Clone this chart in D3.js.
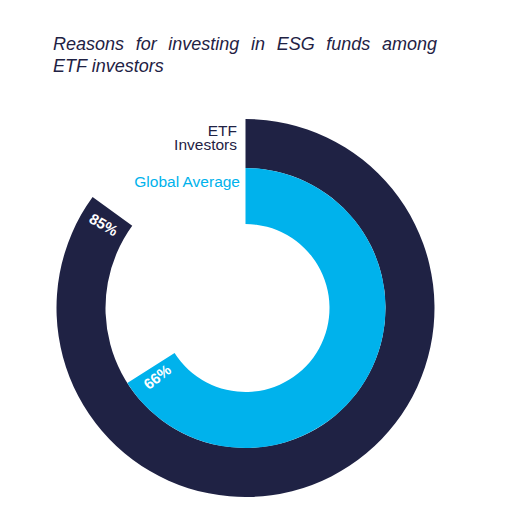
<!DOCTYPE html>
<html>
<head>
<meta charset="utf-8">
<script src="https://cdn.jsdelivr.net/npm/d3@7"></script>
<style>
  html, body { margin: 0; padding: 0; background: #fff; }
  svg { display: block; font-family: "Liberation Sans", Arial, sans-serif; }
</style>
</head>
<body>
<svg id="chart" width="523" height="523"></svg>
<script>
// chart data
const series = ["ETF Investors", "Global Average"];
const values = [85, 66];
const seriesColors = ["#1f2244", "#00b2ec"];

const titleLines = ["Reasons for investing in ESG funds among", "ETF investors"];

const width = 523, height = 523;
const cx = 245.5, cy = 308;

const svg = d3.select("#chart");

// title, first line justified by word spacing
const title = svg.append("g")
  .attr("fill", "#1f2244")
  .attr("font-size", 18)
  .attr("font-style", "italic");
const t1 = title.append("text")
  .attr("x", 53).attr("y", 50)
  .text(titleLines[0]);
const gaps = titleLines[0].split(" ").length - 1;
const extra = (384 - t1.node().getComputedTextLength()) / gaps;
t1.attr("word-spacing", Math.max(0, extra));
title.append("text")
  .attr("x", 53).attr("y", 72)
  .text(titleLines[1]);

// angle scale: percent -> radians
const angle = d3.scaleLinear().domain([0, 100]).range([0, 2 * Math.PI]);
// ring radii [inner, outer] per series
const rings = d3.scaleOrdinal().domain(series).range([[140, 189], [84, 140]]);

const arc = d3.arc()
  .innerRadius(d => rings(d.name)[0])
  .outerRadius(d => rings(d.name)[1])
  .startAngle(0)
  .endAngle(d => angle(d.value));

const data = series.map((name, i) => ({ name, value: values[i], color: seriesColors[i] }));

const g = svg.append("g").attr("transform", `translate(${cx},${cy})`);

g.selectAll("path.ring")
  .data(data)
  .join("path")
  .attr("class", "ring")
  .attr("fill", d => d.color)
  .attr("d", arc);

// percent labels near each arc end, running radially
g.selectAll("text.pct")
  .data(data)
  .join("text")
  .attr("class", "pct")
  .attr("fill", "#fff")
  .attr("font-weight", "bold")
  .attr("font-size", 15)
  .attr("text-anchor", "middle")
  .attr("dominant-baseline", "central")
  .attr("transform", d => {
    const a = angle(d.value) - 5.5 * Math.PI / 180;
    const r = (rings(d.name)[0] + rings(d.name)[1]) / 2;
    const x = r * Math.sin(a), y = -r * Math.cos(a);
    const rot = a * 180 / Math.PI - 270;
    return `translate(${x},${y}) rotate(${rot})`;
  })
  .text(d => d.value + "%");

// series labels left of the arc starts
const lab = svg.append("g").attr("font-size", 15.5).attr("text-anchor", "end");
lab.append("text")
  .attr("x", 237).attr("y", 136)
  .attr("fill", seriesColors[0])
  .text("ETF");
lab.append("text")
  .attr("x", 237).attr("y", 150)
  .attr("fill", seriesColors[0])
  .text("Investors");
lab.append("text")
  .attr("x", 240).attr("y", 187)
  .attr("fill", seriesColors[1])
  .text("Global Average");
</script>
</body>
</html>
